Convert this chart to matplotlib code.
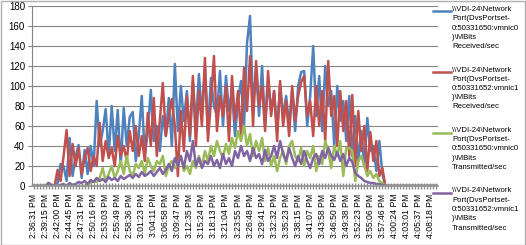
import matplotlib
matplotlib.use('Agg')
import matplotlib.pyplot as plt
from matplotlib.lines import Line2D
from matplotlib.patches import Rectangle

plt.rcParams['font.family'] = ['Liberation Sans', 'DejaVu Sans']

# category labels shown on the x axis (one every 4 samples)
time_labels = ['2:36:31 PM', '2:39:15 PM', '2:42:00 PM', '2:44:45 PM', '2:47:31 PM',
               '2:50:16 PM', '2:53:03 PM', '2:55:49 PM', '2:58:36 PM', '3:01:23 PM',
               '3:04:11 PM', '3:06:58 PM', '3:09:47 PM', '3:12:35 PM', '3:15:24 PM',
               '3:18:13 PM', '3:21:04 PM', '3:23:55 PM', '3:26:48 PM', '3:29:41 PM',
               '3:32:32 PM', '3:35:23 PM', '3:38:15 PM', '3:41:07 PM', '3:43:58 PM',
               '3:46:50 PM', '3:49:38 PM', '3:52:23 PM', '3:55:06 PM', '3:57:46 PM',
               '4:00:24 PM', '4:03:01 PM', '4:05:37 PM', '4:08:18 PM']
label_step = 4

series_names = [
    '\\\\VDI-24\\Network Port(DvsPortset-0:50331650:vmnic0)\\MBits Received/sec',
    '\\\\VDI-24\\Network Port(DvsPortset-0:50331652:vmnic1)\\MBits Received/sec',
    '\\\\VDI-24\\Network Port(DvsPortset-0:50331650:vmnic0)\\MBits Transmitted/sec',
    '\\\\VDI-24\\Network Port(DvsPortset-0:50331652:vmnic1)\\MBits Transmitted/sec',
]
series_colors = ['#4F81BD', '#C0504D', '#9BBB59', '#8064A2']

rx_vmnic0 = [0, 0, 0, 0, 0, 2, 0, 0, 3, 22,
             20, 5, 48, 10, 30, 41, 8, 36, 12, 40,
             20, 85, 40, 55, 77, 30, 80, 35, 76, 20,
             78, 40, 69, 74, 25, 50, 90, 30, 55, 96,
             45, 60, 35, 70, 50, 88, 40, 122, 55, 100,
             65, 95, 45, 105, 60, 112, 70, 118, 55, 108,
             80, 70, 115, 60, 110, 75, 95, 50, 85, 105,
             60, 143, 170, 80, 115, 70, 120, 60, 105, 75,
             95, 55, 100, 70, 90, 60, 95, 55, 100, 114,
             115, 60, 90, 140, 70, 110, 55, 120, 80, 95,
             40, 100, 65, 85, 45, 90, 30, 70, 25, 55,
             20, 68, 35, 40, 15, 45, 12, 0, 0, 0,
             0, 0, 0, 0, 0, 0, 0, 0, 0, 0,
             0, 0, 0, 0, 0]

rx_vmnic1 = [0, 0, 0, 0, 0, 3, 0, 0, 16, 5,
             30, 56, 10, 42, 20, 38, 12, 28, 38, 15,
             30, 20, 63, 25, 45, 28, 38, 20, 50, 30,
             40, 25, 55, 35, 60, 30, 50, 25, 73, 40,
             88, 30, 65, 103, 50, 70, 87, 60, 10, 75,
             35, 90, 50, 110, 40, 95, 60, 128, 45, 85,
             130, 55, 90, 70, 100, 45, 110, 65, 95, 50,
             118, 75, 130, 60, 125, 80, 100, 55, 115, 70,
             95, 45, 105, 60, 85, 50, 100, 65, 90, 104,
             110, 70, 85, 50, 100, 60, 95, 45, 125, 70,
             90, 40, 95, 55, 85, 30, 91, 20, 75, 35,
             60, 15, 54, 25, 45, 10, 18, 0, 0, 0,
             0, 0, 0, 0, 0, 0, 0, 0, 0, 0,
             0, 0, 0, 0, 0]

tx_vmnic0 = [0, 0, 0, 0, 0, 0, 0, 0, 0, 0,
             0, 0, 0, 0, 0, 0, 0, 0, 2, 3,
             5, 4, 8, 18, 5, 12, 20, 8, 15, 25,
             12, 30, 15, 10, 22, 18, 25, 12, 28, 20,
             15, 25, 22, 30, 10, 20, 25, 18, 22, 30,
             15, 20, 12, 25, 18, 30, 20, 35, 25, 40,
             30, 45, 35, 28, 42, 32, 48, 38, 55, 45,
             60, 40, 52, 30, 45, 35, 48, 25, 38, 20,
             30, 15, 28, 35, 22, 40, 45, 30, 25, 38,
             20, 35, 28, 40, 15, 30, 22, 45, 35, 18,
             40, 30, 45, 10, 38, 38, 35, 5, 25, 30,
             20, 10, 15, 8, 12, 5, 3, 0, 0, 0,
             0, 0, 0, 0, 0, 0, 0, 0, 0, 0,
             0, 0, 0, 0, 0]

tx_vmnic1 = [0, 0, 0, 0, 0, 3, 1, 0, 0, 1,
             2, 0, 3, 1, 2, 4, 3, 5, 2, 6,
             4, 8, 5, 7, 4, 9, 6, 8, 5, 10,
             7, 9, 11, 8, 12, 9, 14, 10, 12, 15,
             10, 14, 18, 12, 16, 22, 15, 28, 20, 30,
             18, 35, 25, 45, 20, 28, 18, 25, 22, 30,
             20, 26, 18, 32, 22, 28, 20, 35, 28, 40,
             30, 35, 25, 38, 28, 32, 22, 36, 25, 30,
             40, 28, 45, 32, 25, 38, 28, 20, 30, 22,
             35, 25, 18, 28, 32, 22, 35, 28, 38, 30,
             26, 34, 25, 32, 20, 28, 24, 13, 10, 8,
             5, 4, 3, 3, 2, 2, 1, 0, 0, 0,
             0, 0, 0, 0, 0, 0, 0, 0, 0, 0,
             0, 0, 0, 0, 0]

all_series = [rx_vmnic0, rx_vmnic1, tx_vmnic0, tx_vmnic1]
n = len(rx_vmnic0)
xs = list(range(n))

fig = plt.figure(figsize=(5.26, 2.45), dpi=100)
ax = fig.add_axes([32 / 526, 59 / 245, 406 / 526, 180 / 245])

for vals, col, name in zip(all_series, series_colors, series_names):
    ax.plot(xs, vals, color=col, lw=1.8, label=name)

ax.set_xlim(-0.5, n - 0.5)
ax.set_ylim(0, 180)
ax.set_yticks(range(0, 181, 20))
ax.tick_params(axis='y', labelsize=7, length=3, color='#868686', pad=2)
ax.grid(axis='y', color='#868686', lw=0.8)
ax.yaxis.set_zorder(1)

ax.set_xticks(range(0, len(time_labels) * label_step, label_step))
ax.set_xticklabels(time_labels, rotation=90, fontsize=6.2)
ax.set_xticks(xs, minor=True)
ax.tick_params(axis='x', which='both', direction='inout', length=5,
               width=1.0, color='#8c8c8c', pad=3)
ax.xaxis.set_zorder(3)

for s in ['top', 'right']:
    ax.spines[s].set_visible(False)
ax.spines['left'].set_color('#868686')
ax.spines['bottom'].set_color('#9a9a9a')
ax.spines['bottom'].set_linewidth(1.2)
ax.spines['bottom'].set_zorder(3)

# legend on the right, line sample next to first text row
for i, (name, col) in enumerate(zip(series_names, series_colors)):
    head, tail = name.split(' ', 1)
    port, rest = tail.split(')', 1)
    p1, p2 = port.split('-', 1)
    words = rest.strip().split(' ')
    txt = '\n'.join([head, p1 + '-', p2, ')' + words[0], words[1]])
    ytop = 1 - (6 + i * 60.5) / 245
    yline = 1 - (11.5 + i * 60.5) / 245
    fig.add_artist(Line2D([433 / 526, 451 / 526], [yline, yline], color=col, lw=1.8,
                          transform=fig.transFigure))
    fig.text(452 / 526, ytop, txt, fontsize=5.6, va='top', ha='left', linespacing=1.45)

fig.add_artist(Rectangle((0.001, 0.002), 0.997, 0.995, transform=fig.transFigure,
                         fill=False, edgecolor='#b0b0b0', lw=1))

fig.savefig('out.png', dpi=100)
